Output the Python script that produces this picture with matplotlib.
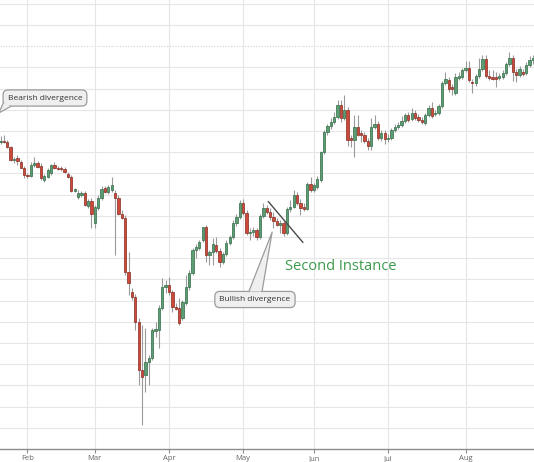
import numpy as np
import pandas as pd
import matplotlib
matplotlib.use("Agg")
import matplotlib.pyplot as plt
from matplotlib.patches import Polygon

# ---------------- data ----------------
START_DATE = "2020-01-22"
opens = [308, 309, 308, 303, 290, 292, 288, 282, 275, 274, 285, 287, 284, 270, 273, 277, 285, 282, 282, 281,
         276, 273, 259, 253, 255, 257, 244, 249, 227, 242, 252, 262, 258, 260, 257, 252, 236, 232, 178, 158,
         153, 128, 80, 75, 88, 92, 119, 120, 142, 163, 165, 158, 143, 142, 132, 147, 163, 177, 200, 202,
         210, 223, 195, 198, 205, 199, 188, 196, 207, 213, 227, 233, 247, 237, 217, 218, 220, 213, 234, 242,
         238, 233, 229, 225, 227, 217, 241, 243, 255, 247, 243, 241, 266, 260, 263, 270, 298, 318, 324, 328,
         333, 345, 332, 340, 312, 310, 323, 317, 315, 309, 304, 323, 326, 312, 317, 311, 312, 320, 323, 325,
         329, 335, 331, 337, 333, 330, 327, 335, 342, 336, 337, 344, 367, 370, 363, 357, 372, 373, 380, 382,
         368, 367, 374, 381, 391, 374, 373, 373, 372, 373, 377, 386, 392, 378, 375, 378, 377, 385, 390]
highs = [314, 315, 310, 304, 293, 295, 290, 284, 277, 288, 293, 289, 287, 276, 282, 286, 288, 284, 284, 283,
         278, 275, 262, 260, 259, 259, 251, 252, 245, 255, 264, 264, 265, 273, 260, 255, 240, 235, 198, 162,
         156, 132, 125, 122, 95, 122, 128, 145, 172, 170, 173, 160, 147, 152, 150, 175, 180, 202, 206, 210,
         223, 225, 200, 212, 213, 202, 198, 210, 215, 230, 236, 250, 251, 240, 222, 223, 222, 236, 247, 245,
         242, 238, 232, 230, 230, 243, 250, 260, 258, 251, 247, 268, 273, 267, 274, 299, 320, 326, 332, 338,
         350, 350, 355, 343, 315, 335, 335, 320, 318, 312, 332, 335, 329, 320, 320, 316, 322, 326, 328, 334,
         337, 338, 342, 340, 336, 333, 337, 345, 348, 340, 346, 369, 378, 373, 366, 377, 378, 382, 389, 389,
         371, 376, 392, 395, 395, 380, 380, 378, 377, 380, 388, 398, 395, 381, 384, 381, 388, 394, 395]
lows = [306, 307, 302, 289, 287, 285, 282, 272, 272, 273, 283, 282, 270, 268, 272, 275, 281, 280, 279, 277,
        272, 258, 258, 251, 253, 244, 242, 222, 222, 240, 250, 257, 256, 258, 195, 235, 231, 175, 155, 150,
        120, 65, 25, 58, 65, 90, 113, 102, 140, 157, 155, 138, 140, 125, 130, 145, 160, 175, 192, 200,
        208, 188, 185, 185, 197, 183, 186, 194, 205, 211, 224, 231, 235, 215, 210, 214, 210, 211, 232, 236,
        230, 222, 224, 217, 214, 215, 238, 242, 245, 235, 239, 240, 258, 258, 261, 268, 296, 315, 321, 326,
        331, 328, 330, 304, 303, 293, 314, 308, 307, 300, 300, 321, 310, 309, 306, 308, 310, 318, 321, 323,
        327, 328, 329, 330, 328, 326, 325, 333, 332, 334, 335, 342, 365, 358, 355, 355, 370, 371, 378, 368,
        357, 364, 372, 379, 372, 370, 370, 363, 370, 371, 375, 384, 369, 368, 373, 374, 375, 383, 386]
closes = [309, 308, 303, 290, 291, 289, 282, 275, 274, 285, 287, 283, 272, 274, 280, 285, 282, 281, 281, 278,
          273, 259, 261, 257, 257, 245, 249, 236, 243, 252, 261, 258, 263, 265, 252, 236, 232, 178, 167, 153,
          128, 80, 73, 88, 92, 120, 121, 142, 163, 165, 158, 143, 141, 127, 148, 163, 177, 200, 203, 208,
          223, 195, 198, 206, 199, 188, 196, 207, 213, 227, 233, 247, 237, 217, 218, 220, 213, 234, 242, 238,
          233, 229, 225, 227, 217, 241, 243, 255, 247, 242, 241, 266, 260, 265, 271, 298, 318, 324, 328, 333,
          345, 332, 340, 310, 310, 323, 315, 315, 309, 304, 323, 326, 312, 317, 311, 312, 320, 323, 325, 329,
          335, 330, 337, 332, 330, 328, 335, 342, 334, 337, 344, 367, 371, 361, 361, 373, 374, 380, 382, 370,
          367, 374, 381, 391, 374, 372, 371, 371, 374, 377, 386, 392, 378, 375, 381, 376, 385, 390, 392]
month_labels = ["Feb", "Mar", "Apr", "May", "Jun", "Jul", "Aug"]

# ---------------- style ----------------
UP_FACE, UP_EDGE = "#5c9d73", "#2f6b45"
DN_FACE, DN_EDGE = "#cd4a3b", "#862a20"
WICK = "#9a9a9a"
GRID = "#e6e6e6"
GRID_STEP = 21.2

dates = pd.bdate_range(START_DATE, periods=len(closes))
o = np.array(opens, float)
h = np.array(highs, float)
l = np.array(lows, float)
c = np.array(closes, float)
x = np.arange(len(c))
up = c >= o

fig = plt.figure(figsize=(5.34, 4.62), dpi=100)
ax = fig.add_axes([0, 13 / 462, 1, 449 / 462])
ax.set_xlim(-0.15, 158.3)
ax.set_ylim(1, 450)

# grid
for k in range(1, 22):
    yv = 1 + GRID_STEP * k
    if k == 19:
        ax.axhline(yv, color="#d2d2d2", lw=0.8, ls=(0, (1, 1.5)), zorder=0)
    else:
        ax.axhline(yv, color=GRID, lw=0.8, zorder=0)

month_pos = [i for i in range(1, len(dates)) if dates[i].month != dates[i - 1].month]
for mp in month_pos:
    ax.axvline(mp, color=GRID, lw=0.8, zorder=0)

# candles
ax.vlines(x, l, h, color=WICK, lw=0.8, zorder=2)
body_h = np.where(np.abs(c - o) < 1.2, np.where(up, 1.2, -1.2), c - o)
ax.bar(x[up], body_h[up], bottom=o[up], width=0.68, color=UP_FACE,
       edgecolor=UP_EDGE, linewidth=0.5, zorder=3)
ax.bar(x[~up], body_h[~up], bottom=o[~up], width=0.68, color=DN_FACE,
       edgecolor=DN_EDGE, linewidth=0.5, zorder=3)

# axes styling
for s in ["top", "left", "right"]:
    ax.spines[s].set_visible(False)
ax.spines["bottom"].set_color("#8c8c8c")
ax.spines["bottom"].set_linewidth(1.0)
ax.set_yticks([])
ax.set_xticks(month_pos)
ax.set_xticklabels(month_labels[:len(month_pos)], fontsize=5.5, color="#666666",
                   family=["Open Sans", "DejaVu Sans"])
ax.tick_params(axis="x", length=3, width=0.8, color="#8c8c8c", pad=1.5)

# annotations
box_kw = dict(boxstyle="round,pad=0.55,rounding_size=0.6", fc="#efefef",
              ec="#9c9c9c", lw=0.9)
ax.text(13.2, 352, "Bearish divergence", ha="center", va="center", fontsize=6,
        color="#333333", family=["Open Sans", "DejaVu Sans"], bbox=box_kw, zorder=6)
tail = Polygon([[0.9, 347.5], [3.0, 343.5], [-0.5, 337]], closed=True,
               fc="#efefef", ec="none", zorder=7)
ax.add_patch(tail)
ax.plot([3.0, -0.5, 0.9], [343.5, 337, 347.5], color="#9c9c9c", lw=0.9, zorder=7)

ax.text(75.5, 150.5, "Bullish divergence", ha="center", va="center", fontsize=6,
        color="#333333", family=["Open Sans", "DejaVu Sans"], bbox=box_kw, zorder=6)
ptr = Polygon([[73.7, 158.5], [80.6, 218], [77.6, 158.5]], closed=True,
              fc="#efefef", ec="none", zorder=7)
ax.add_patch(ptr)
ax.plot([73.7, 80.6, 77.6], [158.5, 218, 158.5], color="#9c9c9c", lw=0.9, zorder=7)

ax.plot([79.5, 89.7], [248.3, 207.7], color="#4a4a4a", lw=1.0, zorder=5)
ax.text(84.4, 184, "Second Instance", ha="left", va="center", fontsize=10.5,
        color="#3c9a4c", family=["Open Sans", "DejaVu Sans"], zorder=6)

fig.savefig("out.png", dpi=100)
